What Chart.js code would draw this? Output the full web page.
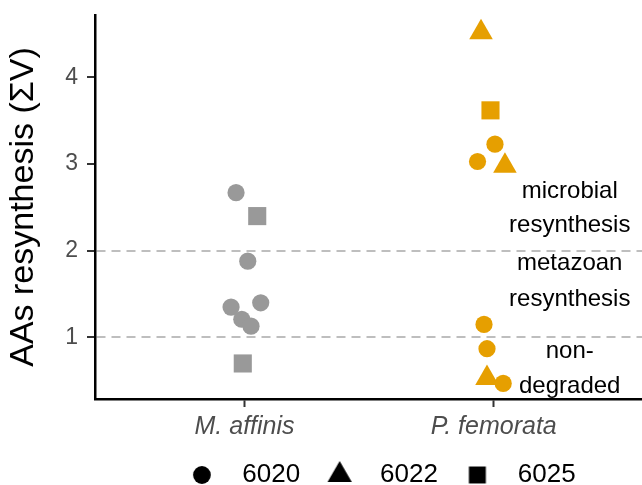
<!DOCTYPE html>
<html>
<head>
<meta charset="utf-8">
<title>AAs resynthesis</title>
<script src="https://cdn.jsdelivr.net/npm/chart.js@4.4.1/dist/chart.umd.min.js"></script>
<style>
  html, body { margin: 0; padding: 0; background: #fff; }
  canvas { display: block; }
</style>
</head>
<body>
<canvas id="grafico" width="642" height="485"></canvas>
<script>
const species = ['M. affinis', 'P. femorata'];
const samples = ['6020', '6022', '6025'];
const yTicks = [1, 2, 3, 4];
const guideLines = [1, 2];

// values, jitter = small horizontal offset of each point
const affinis6020 = [2.67, 1.88, 1.35, 1.40, 1.21, 1.13];
const affinis6020Jitter = [-0.034, 0.013, -0.054, 0.065, -0.011, 0.026];
const affinis6025 = [2.40, 0.70];
const affinis6025Jitter = [0.051, -0.007];
const femorata6020 = [3.23, 3.03, 1.15, 0.87, 0.47];
const femorata6020Jitter = [0.005, -0.065, -0.039, -0.027, 0.038];
const femorata6022 = [4.52, 2.98, 0.53];
const femorata6022Jitter = [-0.051, 0.045, -0.027];
const femorata6025 = [3.62];
const femorata6025Jitter = [-0.013];

// text between the dashed lines
const zoneLines = ['microbial', 'resynthesis', 'metazoan', 'resynthesis', 'non-', 'degraded'];
const zoneLineY = [2.69, 2.29, 1.85, 1.44, 0.84, 0.43];
const zoneLineX = 2.305;

const GRAY = '#999999';
const ORANGE = '#E69F00';
const FONT = "'Liberation Sans', Arial, Helvetica, sans-serif";
Chart.defaults.font.family = FONT;

const shapeSize = { circle: 8.6, triangle: 13.6, rect: 12.8 };

function pts(values, jitter, pos) {
  return values.map((v, i) => ({ x: pos + jitter[i], y: v }));
}

// small black shapes for the legend
function legendIcon(style, r) {
  const c = document.createElement('canvas');
  const s = Math.ceil(r * 2) + 2;
  c.width = s; c.height = s;
  const g = c.getContext('2d');
  const m = s / 2;
  g.fillStyle = '#000';
  g.beginPath();
  if (style === 'circle') {
    g.arc(m, m, r, 0, Math.PI * 2);
  } else if (style === 'triangle') {
    g.moveTo(m, m - r);
    g.lineTo(m + Math.sin(Math.PI * 2 / 3) * r, m + 0.5 * r);
    g.lineTo(m - Math.sin(Math.PI * 2 / 3) * r, m + 0.5 * r);
  } else {
    const h = r * Math.SQRT1_2;
    g.rect(m - h, m - h, 2 * h, 2 * h);
  }
  g.closePath();
  g.fill();
  return c;
}
const legendIcons = [legendIcon('circle', 8.9), legendIcon('triangle', 14), legendIcon('rect', 12)];

function ds(label, data, color, style) {
  return {
    label: label,
    data: data,
    backgroundColor: color,
    borderWidth: 0,
    pointStyle: style,
    pointRadius: shapeSize[style],
    pointHoverRadius: shapeSize[style]
  };
}

const zoneText = {
  id: 'zoneText',
  afterDatasetsDraw(chart) {
    const { ctx, scales: { x, y } } = chart;
    ctx.save();
    ctx.fillStyle = '#000';
    ctx.font = '24px ' + FONT;
    ctx.textAlign = 'center';
    ctx.textBaseline = 'middle';
    zoneLines.forEach((t, i) => {
      ctx.fillText(t, x.getPixelForValue(zoneLineX), y.getPixelForValue(zoneLineY[i]));
    });
    ctx.restore();
  }
};

// legend sits a bit right of centre and low, like the original
const legendNudge = {
  id: 'legendNudge',
  afterLayout(chart) {
    const l = chart.legend;
    l.left += 21; l.right += 21;
    l.top += 13; l.bottom += 13;
  }
};

new Chart(document.getElementById('grafico'), {
  type: 'scatter',
  data: {
    datasets: [
      ds('M. affinis 6020', pts(affinis6020, affinis6020Jitter, 1), GRAY, 'circle'),
      ds('M. affinis 6025', pts(affinis6025, affinis6025Jitter, 1), GRAY, 'rect'),
      ds('P. femorata 6020', pts(femorata6020, femorata6020Jitter, 2), ORANGE, 'circle'),
      ds('P. femorata 6022', pts(femorata6022, femorata6022Jitter, 2), ORANGE, 'triangle'),
      ds('P. femorata 6025', pts(femorata6025, femorata6025Jitter, 2), ORANGE, 'rect')
    ]
  },
  options: {
    responsive: false,
    animation: false,
    devicePixelRatio: 1,
    events: [],
    layout: { autoPadding: false, padding: { top: 15, right: 0, bottom: 0, left: 0 } },
    plugins: {
      tooltip: { enabled: false },
      legend: {
        position: 'bottom',
        fullSize: false,
        labels: {
          usePointStyle: true,
          boxWidth: 26,
          boxHeight: 26,
          padding: 12,
          color: '#000',
          font: { size: 26 },
          generateLabels: () => samples.map((s, i) => ({
            text: '  ' + s + '  ',
            pointStyle: legendIcons[i],
            fillStyle: '#000',
            strokeStyle: '#000',
            lineWidth: 0,
            hidden: false,
            index: i
          }))
        }
      }
    },
    scales: {
      x: {
        type: 'linear',
        min: 0.4,
        max: 2.595,
        afterBuildTicks: s => { s.ticks = [{ value: 1 }, { value: 2 }]; },
        afterFit: s => { s.height = 38; s.paddingLeft = 0; s.paddingRight = 0; },
        ticks: {
          callback: (v, i) => species[i],
          color: '#4D4D4D',
          font: { size: 25, style: 'italic' },
          padding: 5,
          maxRotation: 0
        },
        grid: { drawOnChartArea: false, tickLength: 8, tickWidth: 2, tickColor: '#333' },
        border: { color: '#000', width: 2.5 }
      },
      y: {
        min: 0.29,
        max: 4.72,
        afterBuildTicks: s => { s.ticks = yTicks.map(v => ({ value: v })); },
        afterFit: s => { s.width = 95; s.paddingTop = 0; s.paddingBottom = 0; },
        ticks: {
          color: '#4D4D4D',
          font: { size: 23 },
          padding: 9
        },
        grid: {
          color: c => (c.tick && guideLines.includes(c.tick.value)) ? '#BEBEBE' : 'rgba(0,0,0,0)',
          lineWidth: 2,
          tickLength: 8,
          tickWidth: 2,
          tickColor: '#333'
        },
        border: { color: '#000', width: 2.5, dash: [9, 6] },
        title: {
          display: true,
          text: 'AAs resynthesis (ΣV)',
          color: '#000',
          font: { size: 34 },
          padding: { top: 3, bottom: 0 }
        }
      }
    }
  },
  plugins: [zoneText, legendNudge]
});
</script>
</body>
</html>
